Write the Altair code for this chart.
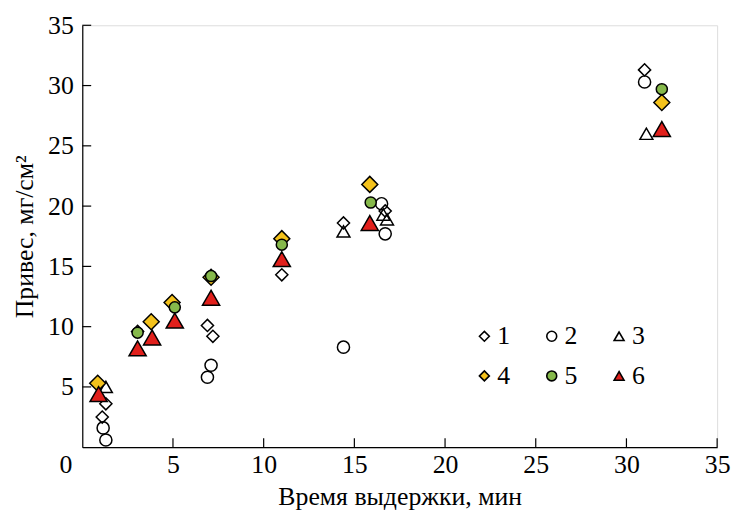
import altair as alt
import pandas as pd

# ---------------- data ----------------
series_names = ["1", "2", "3", "4", "5", "6"]

s1_t = [1.3, 1.1, 3.05, 6.9, 7.2, 11.0, 14.4, 16.7, 31.0]
s1_w = [3.6, 2.5, 9.6, 10.1, 9.2, 14.3, 18.6, 19.6, 31.3]
s2_t = [1.15, 1.3, 7.1, 6.9, 14.4, 16.5, 16.7, 31.0]
s2_w = [1.6, 0.6, 6.8, 5.8, 8.3, 20.2, 17.7, 30.3]
s3_t = [1.3, 14.4, 16.6, 16.8, 31.1]
s3_w = [5.0, 17.9, 19.3, 18.9, 26.0]
s4_t = [0.85, 3.8, 4.95, 7.1, 11.0, 15.85, 31.95]
s4_w = [5.3, 10.4, 12.0, 14.1, 17.3, 21.8, 28.6]
s5_t = [3.05, 5.1, 7.1, 11.0, 15.9, 31.95]
s5_w = [9.5, 11.6, 14.2, 16.8, 20.3, 29.7]
s6_t = [0.9, 3.05, 3.85, 5.1, 7.1, 11.0, 15.85, 31.95]
s6_w = [4.4, 8.2, 9.1, 10.5, 12.4, 15.6, 18.6, 26.4]

x_ticks = [5, 10, 15, 20, 25, 30, 35]
y_ticks = [5, 10, 15, 20, 25, 30, 35]
axis_values = [0, 5, 10, 15, 20, 25, 30, 35]

x_title = "Время выдержки, мин"
y_title = "Привес, мг/см²"

# ---------------- build table ----------------
rows = []
for name, ts, ws in zip(series_names,
                        [s1_t, s2_t, s3_t, s4_t, s5_t, s6_t],
                        [s1_w, s2_w, s3_w, s4_w, s5_w, s6_w]):
    for t, w in zip(ts, ws):
        rows.append({"series": name, "t": t, "w": w})
df = pd.DataFrame(rows)

W, H = 641, 426
FONT = "Liberation Serif"
FS = 26

shapes = ["diamond", "circle", "triangle-up", "diamond", "circle", "triangle-up"]
fills = ["transparent", "transparent", "transparent", "#f4c21c", "#86b94b", "#e1201c"]
strokes = ["black"] * 6
sizes = [150, 150, 170, 260, 125, 300]

xscale = alt.Scale(domain=[0, 35], nice=False, zero=True)
yscale = alt.Scale(domain=[0, 35], nice=False, zero=True)

xaxis = alt.Axis(values=axis_values, grid=False, ticks=False, domainColor="black",
                 domainWidth=1.2, labelFont=FONT, labelFontSize=FS, labelColor="black",
                 labelPadding=5, labelFlush=False,
                 labelOffset={"condition": {"test": "datum.value === 0", "value": -17}, "value": 0},
                 title=x_title, titleFont=FONT, titleFontSize=FS, titleFontWeight="normal",
                 titleColor="black", titlePadding=6)
yaxis = alt.Axis(values=axis_values, grid=False, ticks=False, domainColor="black",
                 domainWidth=1.2, labelFont=FONT, labelFontSize=FS, labelColor="black",
                 labelPadding=9, labelFlush=False,
                 labelExpr="datum.value === 0 ? '' : datum.label",
                 title=y_title, titleFont=FONT, titleFontSize=FS, titleFontWeight="normal",
                 titleColor="black", titlePadding=10)


def xenc(field):
    return alt.X(field, type="quantitative", scale=xscale, axis=xaxis, title=x_title)


def yenc(field):
    return alt.Y(field, type="quantitative", scale=yscale, axis=yaxis, title=y_title)


legend = alt.Legend(title=None, orient="none", legendX=393, legendY=301, columns=3,
                    direction="horizontal",
                    columnPadding=29, rowPadding=14, labelFont=FONT, labelFontSize=FS,
                    labelColor="black", labelOffset=0, symbolSize=100,
                    symbolStrokeColor="black", symbolStrokeWidth=1.6)

shape_enc = alt.Shape("series:N", scale=alt.Scale(domain=series_names, range=shapes), legend=legend)
fill_enc = alt.Fill("series:N", scale=alt.Scale(domain=series_names, range=fills), legend=legend)
stroke_enc = alt.Stroke("series:N", scale=alt.Scale(domain=series_names, range=strokes), legend=legend)

layers = []
xt = alt.Chart(pd.DataFrame({"t": x_ticks})).mark_rule(color="black", strokeWidth=1.2).encode(
    x=xenc("t"), y=alt.value(H), y2=alt.value(H - 9))
yt = alt.Chart(pd.DataFrame({"w": y_ticks})).mark_rule(color="black", strokeWidth=1.2).encode(
    y=yenc("w"), x=alt.value(0), x2=alt.value(9))
layers += [xt, yt]

for name, sz in zip(series_names, sizes):
    layers.append(
        alt.Chart(df).transform_filter(alt.datum.series == name)
        .mark_point(strokeWidth=1.5, opacity=1, size=sz)
        .encode(x=xenc("t"), y=yenc("w"), shape=shape_enc, fill=fill_enc, stroke=stroke_enc)
    )

chart = alt.layer(*layers).properties(
    width=W, height=H,
    autosize=alt.AutoSizeParams(type="none"),
    padding={"left": 75, "top": 15, "right": 14, "bottom": 66},
).configure_view(stroke=None).configure(background="white")

chart.save("out.html", embed_options={"renderer": "svg", "actions": False})
